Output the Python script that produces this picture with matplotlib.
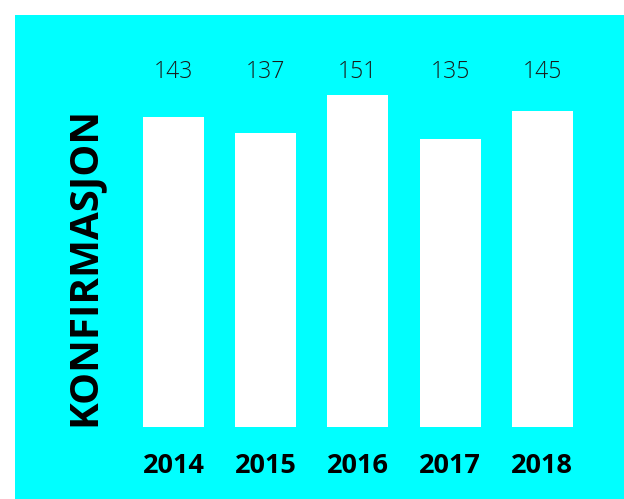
import matplotlib
matplotlib.use("Agg")
import matplotlib.pyplot as plt
from matplotlib.patches import Rectangle
import matplotlib.transforms as mtransforms

years = ["2014", "2015", "2016", "2017", "2018"]
values = [143, 137, 151, 135, 145]
ylabel = "KONFIRMASJON"

fig = plt.figure(figsize=(6.24, 4.99), dpi=100, facecolor="white")

# cyan panel, white margin on top and left
fig.patches.append(Rectangle((15 / 624, 0), 1 - 15 / 624, 484 / 499,
                             transform=fig.transFigure, facecolor="#00ffff",
                             edgecolor="none", zorder=-5))

ax = fig.add_axes([0.2042, 0.1433, 0.7388, 0.6668])
ax.patch.set_alpha(0)
x = range(len(years))
ax.bar(x, values, width=0.66, color="white", zorder=2)
ax.set_xlim(-0.5, 4.5)
ax.set_ylim(30.3, 151)
ax.axis("off")

# value labels all on one line above the bars
trans = mtransforms.blended_transform_factory(ax.transData, fig.transFigure)
for xi, v in zip(x, values):
    ax.text(xi, 0.855, str(v), transform=trans, ha="center", va="center",
            fontsize=16.5, fontfamily="Open Sans", fontweight="light",
            color="#1a1a1a", clip_on=False)

for xi, yr in zip(x, years):
    ax.text(xi, 0.066, yr, transform=trans, ha="center", va="center",
            fontsize=19.5, fontfamily="Open Sans", fontweight="bold",
            color="black", clip_on=False)

fig.text(0.135, 0.466, ylabel, rotation=90, ha="center", va="center",
         fontsize=29, fontfamily="Open Sans", fontweight="bold", color="black")

fig.savefig("out.png", dpi=100, facecolor="white")
